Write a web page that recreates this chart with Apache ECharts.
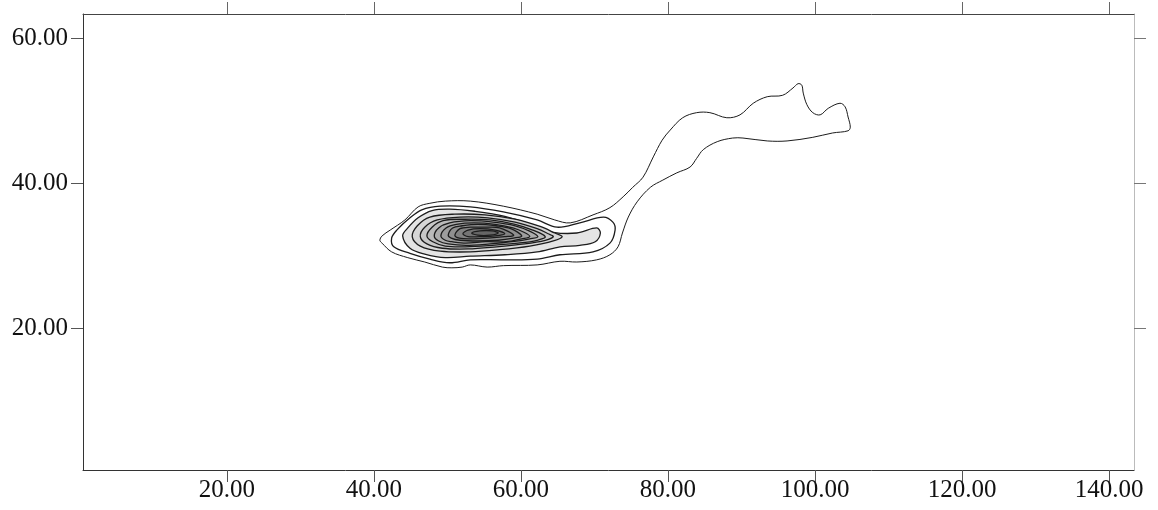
<!DOCTYPE html>
<html>
<head>
<meta charset="utf-8">
<script src="https://cdn.jsdelivr.net/npm/echarts@6/dist/echarts.min.js"></script>
<style>
html,body{margin:0;padding:0;background:#fff;}
#chart{width:1158px;height:510px;}
</style>
</head>
<body>
<div id="chart"></div>
<script>
// Axis ticks
const xTicks = [20, 40, 60, 80, 100, 120, 140];
const yTicks = [20, 40, 60];

// Contour lines, outermost first (x, y in data units)
const contour1 = [[40.8,32.1],[41.1,32.7],[42.2,33.5],[44.2,34.9],[46.0,36.7],[47.6,37.2],[49.7,37.5],[53.1,37.5],[57.6,36.8],[62.2,35.7],[64.6,34.9],[66.7,34.5],[69.8,35.6],[72.1,36.6],[73.9,38.1],[75.2,39.4],[76.6,40.8],[78.0,43.6],[79.2,45.9],[80.3,47.3],[82.0,49.0],[83.9,49.7],[85.7,49.7],[88.0,49.0],[89.8,49.4],[91.6,51.0],[93.5,51.9],[95.6,52.1],[97.0,53.1],[97.7,53.7],[98.2,53.5],[98.4,52.4],[98.9,50.8],[99.7,49.7],[100.7,49.4],[101.8,50.3],[103.4,51.0],[104.1,50.5],[104.5,49.1],[104.8,47.7],[104.5,47.2],[102.4,46.9],[99.7,46.3],[96.2,45.8],[93.5,45.8],[90.2,46.2],[88.8,46.2],[86.7,45.7],[84.8,44.6],[83.9,43.4],[83.0,42.2],[81.2,41.4],[79.3,40.4],[77.6,39.4],[75.8,37.4],[74.6,35.3],[73.8,33.1],[73.2,31.2],[72.1,30.1],[70.3,29.4],[67.6,29.1],[65.3,29.2],[62.2,28.7],[57.6,28.6],[55.4,28.4],[53.1,28.7],[52.0,28.4],[50.6,28.3],[49.3,28.4],[46.9,29.1],[44.6,29.7],[42.4,30.5],[41.1,31.7]];
const contour2 = [[42.4,32.4],[43.1,33.5],[44.9,35.2],[46.5,36.3],[49.0,36.8],[53.1,36.7],[57.6,36.0],[62.2,34.9],[64.9,33.9],[68.0,34.5],[71.2,35.3],[72.5,34.6],[72.8,33.5],[72.1,31.7],[69.8,30.5],[65.3,30.1],[62.2,29.5],[57.6,29.4],[53.1,29.4],[50.3,29.0],[47.6,29.5],[44.9,30.3],[42.7,31.2]];
const contour3 = [[43.9,32.7],[44.6,33.8],[46.0,35.2],[47.9,36.2],[50.3,36.4],[53.7,36.1],[57.8,35.4],[61.9,34.1],[64.4,33.2],[67.6,33.1],[70.3,33.8],[70.8,33.1],[70.1,31.9],[68.0,31.4],[65.3,31.2],[62.2,30.5],[57.8,30.1],[53.1,29.9],[49.7,29.7],[46.9,30.2],[44.9,31.0]];
const contour4 = [[45.2,32.6],[45.9,34.1],[47.6,35.3],[51.0,35.7],[55.1,35.6],[59.2,35.0],[62.6,34.0],[64.6,33.1],[65.6,32.6],[64.4,32.0],[61.2,31.3],[57.1,30.8],[53.1,30.5],[49.0,30.6],[46.3,31.3]];
const contour5 = [[46.3,32.6],[46.9,33.9],[48.6,34.9],[51.7,35.3],[55.5,35.2],[59.2,34.6],[62.2,33.7],[63.7,33.0],[64.4,32.6],[63.3,32.1],[60.5,31.6],[56.7,31.2],[52.8,30.9],[49.3,31.0],[47.2,31.6]];
const contour6 = [[47.2,32.7],[47.9,33.9],[49.4,34.8],[52.4,35.0],[55.8,34.9],[59.2,34.3],[61.6,33.5],[63.3,32.6],[62.2,32.1],[59.6,31.7],[56.1,31.4],[52.4,31.2],[49.7,31.3],[48.0,31.9]];
const contour7 = [[48.2,32.7],[48.8,33.8],[50.3,34.5],[53.1,34.8],[56.2,34.6],[59.2,34.1],[61.1,33.4],[62.3,32.6],[61.2,32.3],[58.8,31.9],[55.8,31.6],[52.5,31.4],[50.1,31.6],[48.8,32.0]];
const contour8 = [[49.1,32.7],[49.8,33.8],[51.2,34.3],[53.6,34.5],[56.5,34.3],[58.9,33.8],[60.4,33.2],[61.2,32.6],[60.1,32.3],[58.0,31.9],[55.2,31.9],[52.5,31.7],[50.6,31.9],[49.7,32.1]];
const contour9 = [[50.1,32.8],[50.7,33.8],[52.0,34.1],[54.1,34.3],[56.6,34.1],[58.6,33.7],[60.1,32.7],[59.0,32.4],[56.9,32.1],[54.1,32.0],[51.7,32.1],[50.5,32.4]];
const contour10 = [[51.0,32.8],[51.7,33.7],[53.1,33.9],[55.1,33.9],[57.1,33.8],[59.0,32.8],[57.8,32.6],[55.5,32.4],[53.1,32.3],[51.6,32.4]];
const contour11 = [[52.1,33.0],[52.8,33.5],[54.4,33.7],[56.5,33.5],[57.8,33.0],[56.5,32.7],[54.4,32.6],[52.8,32.6]];
const contour12 = [[53.3,33.1],[54.4,33.4],[56.1,33.4],[56.9,33.1],[55.8,32.8],[54.1,32.8]];

const contours = [contour1, contour2, contour3, contour4, contour5, contour6, contour7, contour8, contour9, contour10, contour11, contour12];
const fills = ['none','none','#e4e4e4','#d6d6d6','#c8c8c8','#bababa','#acacac','#9e9e9e','#909090','#828282','#747474','#666666'];

const chart = echarts.init(document.getElementById('chart'), null, {renderer:'canvas'});
const serif = 'Liberation Serif';
const lbl = v => Number(v).toFixed(2);

const option = {
  backgroundColor: '#ffffff',
  animation: false,
  grid: {left: 83, right: 24, top: 14, bottom: 40, containLabel: false},
  xAxis: [
    {type:'value', position:'bottom', min:0.41, max:143.4,
     axisLine:{show:true, onZero:false, lineStyle:{color:'#333', width:1}},
     axisTick:{show:true, inside:false, length:12, customValues:xTicks, lineStyle:{color:'#555', width:1}},
     axisLabel:{show:true, customValues:xTicks, formatter:lbl, fontFamily:serif, fontSize:25, color:'#111', margin:8},
     splitLine:{show:false}},
    {type:'value', position:'top', min:0.41, max:143.4,
     axisLine:{show:true, onZero:false, lineStyle:{color:'#444', width:1}},
     axisTick:{show:true, inside:false, length:12, customValues:xTicks, lineStyle:{color:'#666', width:1}},
     axisLabel:{show:false},
     splitLine:{show:false}}
  ],
  yAxis: [
    {type:'value', position:'left', min:0.41, max:63.31,
     axisLine:{show:true, onZero:false, lineStyle:{color:'#333', width:1}},
     axisTick:{show:true, inside:false, length:12, customValues:yTicks, lineStyle:{color:'#555', width:1}},
     axisLabel:{show:true, customValues:yTicks, formatter:lbl, fontFamily:serif, fontSize:25, color:'#111', margin:15},
     splitLine:{show:false}},
    {type:'value', position:'right', min:0.41, max:63.31,
     axisLine:{show:true, onZero:false, lineStyle:{color:'#bbb', width:1}},
     axisTick:{show:true, inside:false, length:12, customValues:yTicks, lineStyle:{color:'#777', width:1}},
     axisLabel:{show:false},
     splitLine:{show:false}}
  ],
  series: [{
    type:'custom',
    coordinateSystem:'cartesian2d',
    xAxisIndex:0, yAxisIndex:0,
    encode:{x:0, y:1},
    data: contours.map((c, i) => [c[0][0], c[0][1], i]),
    renderItem: function (params, api) {
      const i = params.dataIndex;
      const pts = contours[i].map(p => api.coord(p));
      return {
        type:'polygon',
        shape:{points:pts, smooth:0.35},
        style:{fill:fills[i], stroke:'#1c1c1c', lineWidth: i === 0 ? 1 : 1.3}
      };
    },
    silent:true
  }]
};
chart.setOption(option);
</script>
</body>
</html>
